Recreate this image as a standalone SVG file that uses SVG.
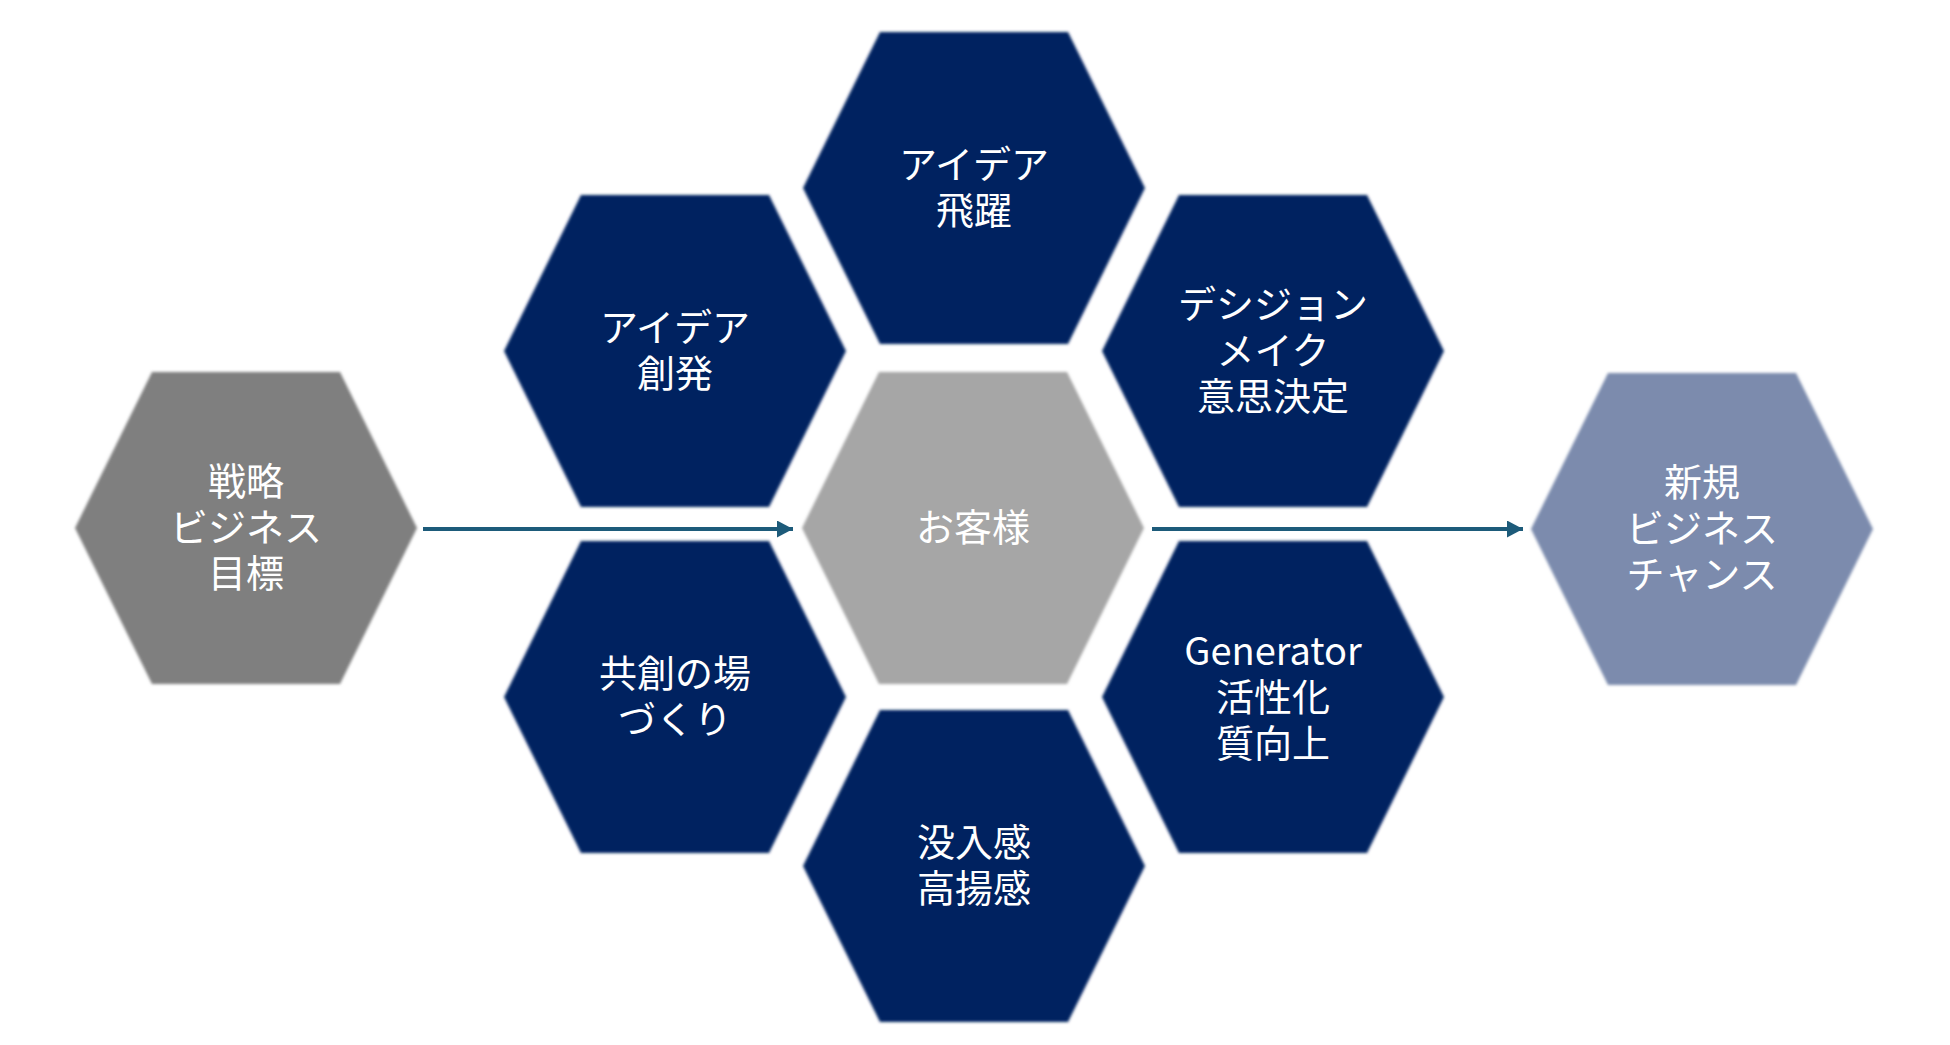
<svg xmlns="http://www.w3.org/2000/svg" width="1950" height="1045" viewBox="0 0 1950 1045">
  <style>
    .hex { filter: url(#soft); }
    .navy { fill: #022060; }
    .gray { fill: #7f7f7f; }
    .lgray { fill: #a6a6a6; }
    .bgray { fill: #7b8bad; }
    .lbl { font-family: "Noto Sans CJK JP", "Noto Sans", sans-serif; font-size: 38px; fill: #ffffff; text-anchor: middle; dominant-baseline: central; }
    .conn { stroke: #1d5b7a; stroke-width: 4; fill: none; }
  </style>
  <defs>
    <filter id="soft" x="-5%" y="-5%" width="110%" height="110%">
      <feGaussianBlur stdDeviation="1.6"/>
    </filter>
    <polygon id="hexshape" points="-171,0 -94,-156 94,-156 171,0 94,156 -94,156"/>
    <marker id="arrow" markerUnits="userSpaceOnUse" markerWidth="18" markerHeight="18" refX="16" refY="8.5" orient="auto">
      <path d="M0,0 L16,8.5 L0,17 z" fill="#1d5b7a"/>
    </marker>
  </defs>
  <rect width="1950" height="1045" fill="#ffffff"/>

  <g id="node-strategy">
    <use href="#hexshape" x="246" y="528" class="hex gray"/>
    <text class="lbl" y="478"><tspan x="246">戦略</tspan><tspan x="246" dy="46">ビジネス</tspan><tspan x="246" dy="46">目標</tspan></text>
  </g>

  <g id="node-idea-leap">
    <use href="#hexshape" x="974" y="188" class="hex navy"/>
    <text class="lbl" y="161"><tspan x="974">アイデア</tspan><tspan x="974" dy="46">飛躍</tspan></text>
  </g>

  <g id="node-idea-create">
    <use href="#hexshape" x="675" y="351" class="hex navy"/>
    <text class="lbl" y="324"><tspan x="675">アイデア</tspan><tspan x="675" dy="46">創発</tspan></text>
  </g>

  <g id="node-decision">
    <use href="#hexshape" x="1273" y="351" class="hex navy"/>
    <text class="lbl" y="301"><tspan x="1273">デシジョン</tspan><tspan x="1273" dy="46">メイク</tspan><tspan x="1273" dy="46">意思決定</tspan></text>
  </g>

  <g id="node-customer">
    <use href="#hexshape" x="973" y="528" class="hex lgray"/>
    <text class="lbl" x="973" y="524">お客様</text>
  </g>

  <g id="node-cocreation">
    <use href="#hexshape" x="675" y="697" class="hex navy"/>
    <text class="lbl" y="670"><tspan x="675">共創の場</tspan><tspan x="675" dy="46">づくり</tspan></text>
  </g>

  <g id="node-generator">
    <use href="#hexshape" x="1273" y="697" class="hex navy"/>
    <text class="lbl" y="648"><tspan x="1273">Generator</tspan><tspan x="1273" dy="46">活性化</tspan><tspan x="1273" dy="46">質向上</tspan></text>
  </g>

  <g id="node-immersion">
    <use href="#hexshape" x="974" y="866" class="hex navy"/>
    <text class="lbl" y="839"><tspan x="974">没入感</tspan><tspan x="974" dy="46">高揚感</tspan></text>
  </g>

  <g id="node-newbiz">
    <use href="#hexshape" x="1702" y="529" class="hex bgray"/>
    <text class="lbl" y="479"><tspan x="1702">新規</tspan><tspan x="1702" dy="46">ビジネス</tspan><tspan x="1702" dy="46">チャンス</tspan></text>
  </g>

  <g id="connectors">
    <line class="conn" x1="423" y1="529" x2="793" y2="529" marker-end="url(#arrow)"/>
    <line class="conn" x1="1152" y1="529" x2="1523" y2="529" marker-end="url(#arrow)"/>
  </g>
</svg>
